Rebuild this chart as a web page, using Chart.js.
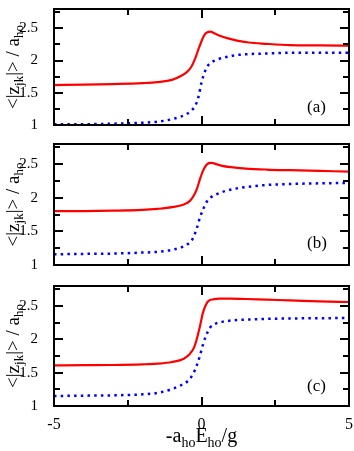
<!DOCTYPE html>
<html lang="en">
<head>
<meta charset="UTF-8" />
<title>&lt;|z_jk|&gt; / a_ho vs -a_ho E_ho / g</title>
<script src="https://cdn.jsdelivr.net/npm/chart.js"></script>
<style>
  html, body { margin: 0; padding: 0; background: #fff; overflow: hidden; }
  #wrap { position: relative; width: 354px; height: 451px; overflow: hidden; background: #fff; }
  canvas { position: absolute; left: 0; }
</style>
</head>
<body>
<div id="wrap">
  <canvas id="panelA" width="364" height="150" style="top:-8px"></canvas>
  <canvas id="panelB" width="364" height="155" style="top:127px"></canvas>
  <canvas id="panelC" width="364" height="182" style="top:269px"></canvas>
</div>
<script>
// ---- data ----
const redAx  = [-5, -4, -3, -2, -1.5, -1, -0.7, -0.5, -0.35, -0.2, -0.1, 0, 0.1, 0.2, 0.3, 0.45, 0.65, 0.9, 1.2, 1.6, 2.2, 3, 4, 5];
const redAy  = [1.62, 1.625, 1.635, 1.65, 1.665, 1.70, 1.76, 1.82, 1.90, 2.05, 2.18, 2.30, 2.40, 2.44, 2.45, 2.42, 2.38, 2.345, 2.31, 2.28, 2.26, 2.24, 2.235, 2.23];
const blueAx = [-5, -4, -3, -2, -1.5, -1, -0.7, -0.5, -0.35, -0.2, -0.1, 0, 0.1, 0.2, 0.3, 0.5, 0.8, 1.1, 1.6, 2.2, 3, 4, 5];
const blueAy = [1.01, 1.012, 1.02, 1.035, 1.05, 1.09, 1.13, 1.17, 1.22, 1.31, 1.44, 1.66, 1.81, 1.91, 1.96, 2.01, 2.05, 2.08, 2.10, 2.11, 2.12, 2.12, 2.12];

const redBx  = [-5, -4, -3, -2, -1.5, -1, -0.6, -0.4, -0.25, -0.15, -0.05, 0.05, 0.15, 0.25, 0.35, 0.5, 0.7, 1, 1.5, 2.2, 3, 4, 5];
const redBy  = [1.80, 1.802, 1.808, 1.82, 1.835, 1.86, 1.90, 1.95, 2.04, 2.14, 2.28, 2.40, 2.48, 2.515, 2.52, 2.50, 2.475, 2.455, 2.435, 2.42, 2.41, 2.40, 2.39];
const blueBx = [-5, -4, -3, -2, -1.5, -1, -0.7, -0.5, -0.3, -0.15, -0.05, 0.05, 0.15, 0.3, 0.5, 0.8, 1.2, 1.7, 2.2, 3, 4, 5];
const blueBy = [1.16, 1.165, 1.17, 1.185, 1.195, 1.225, 1.26, 1.30, 1.39, 1.56, 1.71, 1.82, 1.92, 2.00, 2.05, 2.10, 2.14, 2.17, 2.19, 2.205, 2.215, 2.22];

const redCx  = [-5, -4, -3, -2, -1.5, -1, -0.6, -0.4, -0.25, -0.15, -0.05, 0.05, 0.15, 0.25, 0.4, 0.6, 1, 1.5, 2.2, 3, 4, 5];
const redCy  = [1.61, 1.612, 1.615, 1.625, 1.635, 1.66, 1.71, 1.78, 1.88, 2.02, 2.20, 2.40, 2.52, 2.58, 2.60, 2.61, 2.61, 2.605, 2.595, 2.585, 2.57, 2.56];
const blueCx = [-5, -4, -3, -2, -1.5, -1, -0.7, -0.5, -0.3, -0.15, -0.05, 0.05, 0.15, 0.3, 0.5, 0.8, 1.2, 1.8, 2.5, 3.5, 5];
const blueCy = [1.15, 1.155, 1.16, 1.175, 1.195, 1.255, 1.31, 1.36, 1.47, 1.62, 1.76, 1.92, 2.05, 2.18, 2.24, 2.27, 2.29, 2.30, 2.31, 2.315, 2.32];

// tick values
const yLabels = [1, 1.5, 2, 2.5];
const yTicks  = [1, 1.25, 1.5, 1.75, 2, 2.25, 2.5, 2.75];
const xLabels = [-5, 0, 5];
const xTicks  = [-5, -2.5, 0, 2.5, 5];

// axis titles as [text, isSubscript]
const yTitle = [['<|z', 0], ['jk', 1], ['|> / a', 0], ['ho', 1]];
const xTitle = [['-a', 0], ['ho', 1], ['E', 0], ['ho', 1], ['/g', 0]];

const SERIF = "'Liberation Serif', 'Times New Roman', serif";

function pts(xs, ys) {
  return xs.map((x, i) => ({ x: x, y: ys[i] }));
}

function onStep(v, step) {
  return Math.abs(v / step - Math.round(v / step)) < 1e-6;
}

// draw text with subscripts, centred on cx, baseline at by
function drawRich(ctx, parts, cx, by, size, subSize, subDrop) {
  const fonts = parts.map(p => (p[1] ? subSize : size) + 'px ' + SERIF);
  let total = 0;
  const widths = parts.map((p, i) => {
    ctx.font = fonts[i];
    const w = ctx.measureText(p[0]).width;
    total += w;
    return w;
  });
  let x = cx - total / 2;
  ctx.textAlign = 'left';
  ctx.textBaseline = 'alphabetic';
  parts.forEach((p, i) => {
    ctx.font = fonts[i];
    ctx.fillText(p[0], x, by + (p[1] ? subDrop : 0));
    x += widths[i];
  });
}

const framePlugin = {
  id: 'frame',
  afterDraw(chart, args, opts) {
    const ctx = chart.ctx;
    const a = chart.chartArea;
    const xs = chart.scales.x, ys = chart.scales.y;
    ctx.save();
    ctx.strokeStyle = '#000';
    ctx.lineWidth = 2;
    ctx.beginPath();
    yTicks.forEach(v => {
      const py = Math.round(ys.getPixelForValue(v));
      const len = onStep(v, 0.5) ? 9 : 6;
      ctx.moveTo(a.left, py); ctx.lineTo(a.left + len, py);
      ctx.moveTo(a.right, py); ctx.lineTo(a.right - len, py);
    });
    xTicks.forEach(v => {
      const px = Math.round(xs.getPixelForValue(v));
      const len = onStep(v, 5) ? 9 : 6;
      ctx.moveTo(px, a.bottom); ctx.lineTo(px, a.bottom - len);
      ctx.moveTo(px, a.top); ctx.lineTo(px, a.top + len);
    });
    ctx.stroke();
    ctx.strokeRect(a.left, a.top, a.right - a.left, a.bottom - a.top);

    // panel tag
    ctx.fillStyle = '#000';
    ctx.font = '17px ' + SERIF;
    ctx.textAlign = 'left';
    ctx.textBaseline = 'alphabetic';
    ctx.fillText(opts.tag, a.right - 42, ys.getPixelForValue(opts.tagY));

    // x title (bottom panel only)
    if (opts.xTitle) {
      drawRich(ctx, xTitle, (a.left + a.right) / 2, a.bottom + 36, 20, 14, 5);
    }

    // y title, rotated
    ctx.translate(19, (a.top + a.bottom) / 2);
    ctx.rotate(-Math.PI / 2);
    drawRich(ctx, yTitle, 0, 0, 19, 13, 4);
    ctx.restore();
  }
};

function makePanel(id, red, blue, tag, tagY, showX) {
  return new Chart(document.getElementById(id), {
    type: 'line',
    data: {
      datasets: [
        {
          data: red,
          borderColor: '#ff0000',
          borderWidth: 2.2,
          pointRadius: 0,
          cubicInterpolationMode: 'monotone',
          fill: false
        },
        {
          data: blue,
          borderColor: '#0000ff',
          borderWidth: 2.5,
          borderDash: [2.5, 4.2],
          pointRadius: 0,
          cubicInterpolationMode: 'monotone',
          fill: false
        }
      ]
    },
    options: {
      responsive: false,
      animation: false,
      devicePixelRatio: 1,
      layout: { padding: { top: 12, bottom: showX ? 0 : 12, left: 0, right: 15 } },
      plugins: {
        legend: { display: false },
        tooltip: { enabled: false },
        frame: { tag: tag, tagY: tagY, xTitle: showX }
      },
      scales: {
        x: {
          type: 'linear',
          min: -5,
          max: 5,
          display: showX,
          afterBuildTicks: s => { s.ticks = xLabels.map(v => ({ value: v })); },
          afterFit: s => { s.height = showX ? 45 : 0; },
          grid: { display: false },
          border: { display: false },
          ticks: {
            color: '#000',
            font: { family: SERIF, size: 16 },
            padding: 1,
            maxRotation: 0,
            autoSkip: false,
            callback: v => String(v)
          }
        },
        y: {
          type: 'linear',
          min: 1,
          max: 2.8,
          afterBuildTicks: s => { s.ticks = yLabels.map(v => ({ value: v })); },
          afterFit: s => { s.width = 54; },
          grid: { display: false },
          border: { display: false },
          ticks: {
            color: '#000',
            font: { family: SERIF, size: 15 },
            padding: 8,
            callback: v => String(v)
          }
        }
      }
    },
    plugins: [framePlugin]
  });
}

makePanel('panelA', pts(redAx, redAy), pts(blueAx, blueAy), '(a)', 1.2, false);
makePanel('panelB', pts(redBx, redBy), pts(blueBx, blueBy), '(b)', 1.25, false);
makePanel('panelC', pts(redCx, redCy), pts(blueCx, blueCy), '(c)', 1.22, true);
</script>
</body>
</html>
